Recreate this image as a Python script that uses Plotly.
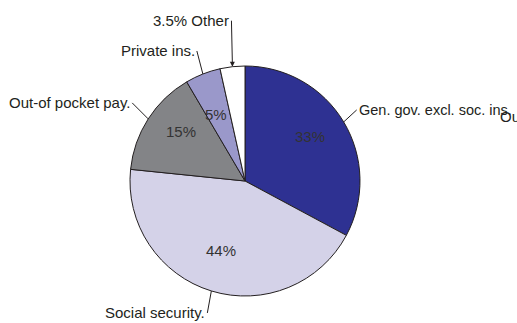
import math
import plotly.graph_objects as go

# Data
categories = ["Gen. gov. excl. soc. ins.", "Social security.", "Out-of pocket pay.", "Private ins.", "Other"]
values = [33, 44, 15, 5, 3.5]
pct_labels = ["33%", "44%", "15%", "5%", ""]
outer_labels = ["Gen. gov. excl. soc. ins.", "Social security.", "Out-of pocket pay.", "Private ins.", "3.5% Other"]
colors = ["#2e3192", "#d4d2e8", "#838487", "#9a98ca", "#ffffff"]

W, H = 517, 323
CX, CY, R = 245, 181, 115

fig = go.Figure(go.Pie(
    labels=categories, values=values, sort=False, direction="clockwise", rotation=0,
    marker=dict(colors=colors, line=dict(color="#231f20", width=1)),
    textinfo="none", hoverinfo="label+percent",
    domain=dict(x=[(CX - R) / W, (CX + R) / W], y=[1 - (CY + R) / H, 1 - (CY - R) / H]),
    showlegend=False,
))

total = sum(values)
mids = []
cum = 0
for v in values:
    mids.append((cum + v / 2) / total * 360)
    cum += v

def pt(angle, r):
    a = math.radians(angle)
    return CX + r * math.sin(a), CY - r * math.cos(a)

FAM = "Liberation Sans, Arial, sans-serif"
annotations = []
# inside percentage labels: (angle tweak in degrees, radius fraction)
inside_pos = [(-4.4, 0.69), (0, 0.72), (5.3, 0.71), (1.0, 0.72), (0, 0)]
for ang, t, (da, rf) in zip(mids, pct_labels, inside_pos):
    if not t:
        continue
    x, y = pt(ang + da, rf * R)
    annotations.append(dict(x=x / W, y=1 - (y + 1) / H, xref="paper", yref="paper", text=t,
                            showarrow=False, font=dict(family=FAM, size=15, color="#333333")))

# outer labels with leader lines: (ax, ay, xanchor, arrowhead, font size)
leader = [(13, -12, "left", 0, 14.5), (-4, 22, "right", 0, 15), (-16, -16, "right", 0, 15),
          (-6, -23, "right", 0, 15), (-1, -46, "right", 2, 15)]
for ang, t, (ax, ay, xa, ah, fs) in zip(mids, outer_labels, leader):
    x, y = pt(ang, R)
    annotations.append(dict(x=x / W, y=1 - y / H, xref="paper", yref="paper", text=t,
                            showarrow=True, ax=ax, ay=ay, xanchor=xa, yanchor="middle",
                            arrowhead=ah, arrowsize=1, arrowwidth=1, arrowcolor="#231f20",
                            standoff=0, startstandoff=0,
                            font=dict(family=FAM, size=fs, color="#231f20")))

# legend remnant visible at the right edge
annotations.append(dict(x=498 / W, y=1 - 117 / H, xref="paper", yref="paper", text="Ou",
                        showarrow=False, xanchor="left",
                        font=dict(family=FAM, size=15, color="#231f20")))

fig.update_layout(width=W, height=H, margin=dict(l=0, r=0, t=0, b=0),
                  paper_bgcolor="white", plot_bgcolor="white", annotations=annotations)

fig.write_html("out.html")
